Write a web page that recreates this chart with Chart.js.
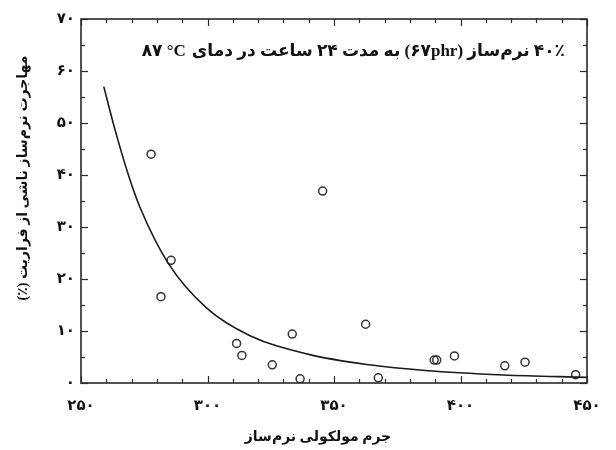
<!DOCTYPE html>
<html>
<head>
<meta charset="utf-8">
<script src="https://cdn.jsdelivr.net/npm/chart.js@4"></script>
<style>
html,body{margin:0;padding:0;background:#fff;}
#wrap{width:616px;height:450px;}
</style>
</head>
<body>
<div id="wrap"><canvas id="c" width="616" height="450"></canvas></div>
<script>
// ---- data ----
const pointMass = [277.7, 281.6, 285.6, 311.5, 313.6, 325.6, 333.5, 336.6, 345.5, 362.5, 367.5, 389.6, 390.6, 397.6, 417.5, 425.5, 445.5];
const pointMigration = [44.0, 16.6, 23.6, 7.6, 5.3, 3.5, 9.4, 0.8, 36.9, 11.3, 1.0, 4.4, 4.4, 5.2, 3.3, 4.0, 1.6];

const curveMass = [259, 263, 269, 273.3, 284.5, 299.7, 316.8, 340, 364, 386, 417, 450];
const curveMigration = [57, 49.5, 39.6, 33.8, 23.0, 14.4, 9.1, 5.5, 3.5, 2.4, 1.54, 1.08];

const xTickValues = [250, 300, 350, 400, 450];
const xTickLabels = ['۲۵۰', '۳۰۰', '۳۵۰', '۴۰۰', '۴۵۰'];
const yTickValues = [0, 10, 20, 30, 40, 50, 60, 70];
const yTickLabels = ['۰', '۱۰', '۲۰', '۳۰', '۴۰', '۵۰', '۶۰', '۷۰'];

const titleMain = '۴۰٪ نرم‌ساز (۶۷phr) به مدت ۲۴ ساعت در دمای';
const titleTemp = '۸۷ °C';
const xTitle = 'جرم مولکولی نرم‌ساز';
const yTitle = 'مهاجرت نرم‌ساز ناشی از فراریت (٪)';

const FONT = "'Liberation Serif', 'DejaVu Sans', serif";

const deco = {
  id: 'deco',
  afterDraw(chart) {
    const ctx = chart.ctx, a = chart.chartArea, x = chart.scales.x, y = chart.scales.y;
    ctx.save();
    ctx.strokeStyle = '#2a2a2a';
    ctx.lineWidth = 1.2;
    const seg = (x1, y1, x2, y2) => { ctx.beginPath(); ctx.moveTo(x1, y1); ctx.lineTo(x2, y2); ctx.stroke(); };
    for (let v = 250; v <= 450; v += 10) {
      const px = Math.round(x.getPixelForValue(v)) + 0.5;
      const L = (v % 50 === 0) ? 7 : 4;
      seg(px, a.bottom, px, a.bottom - L);
      seg(px, a.top, px, a.top + L);
    }
    for (let v = 0; v <= 70; v += 5) {
      const py = Math.round(y.getPixelForValue(v)) + 0.5;
      const L = (v % 10 === 0) ? 7 : 4;
      seg(a.left, py, a.left + L, py);
      seg(a.right, py, a.right - L, py);
    }
    ctx.lineWidth = 1.6;
    ctx.strokeRect(a.left, a.top, a.right - a.left, a.bottom - a.top);

    ctx.fillStyle = '#111';
    ctx.textBaseline = 'middle';
    // in-plot title
    ctx.font = "bold 17px " + FONT;
    ctx.direction = 'rtl';
    ctx.textAlign = 'right';
    const rightX = 565;
    ctx.fillText(titleMain, rightX, 52);
    const w = ctx.measureText(titleMain).width;
    ctx.direction = 'ltr';
    ctx.textAlign = 'right';
    ctx.fillText(titleTemp, rightX - w - 6, 52);

    // x title
    ctx.font = "bold 14px " + FONT;
    ctx.direction = 'rtl';
    ctx.textAlign = 'center';
    ctx.fillText(xTitle, 318, 437);

    // y title
    ctx.save();
    ctx.translate(23, 178);
    ctx.rotate(-Math.PI / 2);
    ctx.font = "bold 14px " + FONT;
    ctx.fillText(yTitle, 0, 0);
    ctx.restore();
    ctx.restore();
  }
};

new Chart(document.getElementById('c'), {
  type: 'scatter',
  data: {
    datasets: [
      {
        type: 'line',
        data: curveMass.map((m, i) => ({ x: m, y: curveMigration[i] })),
        borderColor: '#1a1a1a',
        borderWidth: 1.6,
        pointRadius: 0,
        fill: false,
        cubicInterpolationMode: 'monotone'
      },
      {
        data: pointMass.map((m, i) => ({ x: m, y: pointMigration[i] })),
        pointStyle: 'circle',
        pointRadius: 4,
        borderColor: '#333',
        borderWidth: 1.5,
        backgroundColor: 'rgba(0,0,0,0)'
      }
    ]
  },
  options: {
    responsive: false,
    animation: false,
    events: [],
    layout: { padding: { left: 0, top: 19, right: 29, bottom: 0 } },
    plugins: { legend: { display: false }, tooltip: { enabled: false }, title: { display: false } },
    scales: {
      x: {
        type: 'linear', min: 250, max: 450,
        grid: { display: false, drawTicks: false },
        border: { display: false },
        afterBuildTicks: s => { s.ticks = xTickValues.map(v => ({ value: v })); },
        afterFit: s => { s.height = 450 - 383; },
        ticks: {
          padding: 14, color: '#111',
          font: { family: FONT, size: 15, weight: 'bold' },
          maxRotation: 0,
          callback: v => xTickLabels[xTickValues.indexOf(v)]
        }
      },
      y: {
        type: 'linear', min: 0, max: 70,
        grid: { display: false, drawTicks: false },
        border: { display: false },
        afterBuildTicks: s => { s.ticks = yTickValues.map(v => ({ value: v })); },
        afterFit: s => { s.width = 81; },
        ticks: {
          padding: 6, color: '#111',
          font: { family: FONT, size: 15, weight: 'bold' },
          callback: v => yTickLabels[yTickValues.indexOf(v)]
        }
      }
    }
  },
  plugins: [deco]
});
</script>
</body>
</html>
